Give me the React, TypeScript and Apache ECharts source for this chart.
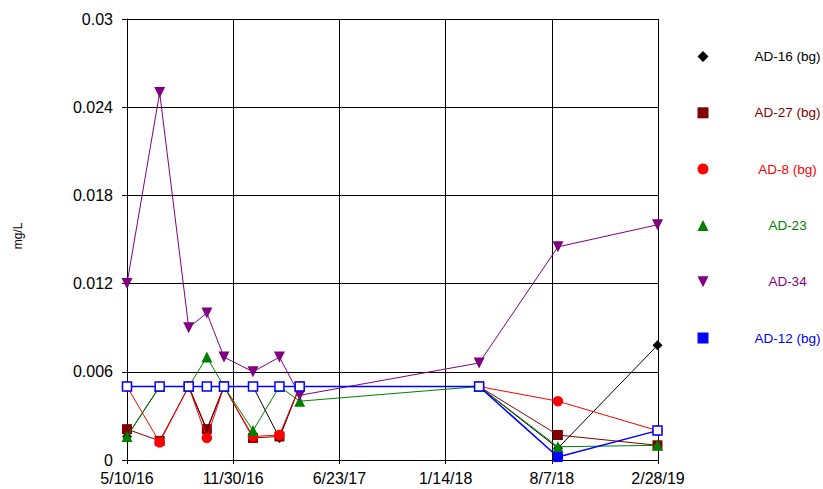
import React, { useEffect, useRef } from 'react';
import * as echarts from 'echarts';

// ---- data ----
const axisStart = '2016-05-10';
const axisEnd = '2019-02-28';
const sampleDates = [
  '2016-05-10', '2016-07-12', '2016-09-06', '2016-10-11', '2016-11-13',
  '2017-01-08', '2017-02-28', '2017-04-08', '2018-03-20', '2018-08-19', '2019-02-27',
];
const seriesNames = ['AD-16 (bg)', 'AD-27 (bg)', 'AD-8 (bg)', 'AD-23', 'AD-34', 'AD-12 (bg)'];
const ad16 = [0.0016, 0.005, 0.005, 0.002, 0.005, 0.005, 0.0015, 0.005, 0.005, 0.0008, 0.0078];
const ad27 = [0.0021, 0.0013, 0.005, 0.0021, 0.005, 0.0015, 0.0016, 0.005, 0.005, 0.0017, 0.001];
const ad8 = [0.005, 0.0012, 0.005, 0.0015, 0.005, 0.0016, 0.0017, 0.005, 0.005, 0.004, 0.002];
const ad23 = [0.0016, 0.005, 0.005, 0.007, 0.005, 0.002, 0.005, 0.004, 0.005, 0.0009, 0.001];
const ad34 = [0.012, 0.025, 0.009, 0.01, 0.007, 0.006, 0.007, 0.0044, 0.0066, 0.0145, 0.016];
const ad12 = [0.005, 0.005, 0.005, 0.005, 0.005, 0.005, 0.005, 0.005, 0.005, 0.0002, 0.002];
const ad12Hollow = [true, true, true, true, true, true, true, true, true, false, true];
const yTicks = [0, 0.006, 0.012, 0.018, 0.024, 0.03];

const DAY = 86400000;
const parse = (s: string) => {
  const [y, m, d] = s.split('-').map(Number);
  return Date.UTC(y, m - 1, d);
};
const t0 = parse(axisStart);
const toDay = (s: string) => (parse(s) - t0) / DAY;
const totalDays = toDay(axisEnd);
const fmtDay = (v: number) => {
  const dt = new Date(t0 + Math.floor(v + 1e-6) * DAY);
  return `${dt.getUTCMonth() + 1}/${dt.getUTCDate()}/${String(dt.getUTCFullYear()).slice(2)}`;
};

const FONT = "'Liberation Sans', Arial, sans-serif";

const styles = [
  { color: '#000000', symbol: 'diamond', size: 10, rotate: 0, width: 1 },
  { color: '#800000', symbol: 'rect', size: 10, rotate: 0, width: 1 },
  { color: '#FF0000', symbol: 'circle', size: 10.5, rotate: 0, width: 1 },
  { color: '#008000', symbol: 'triangle', size: 11, rotate: 0, width: 1 },
  { color: '#800080', symbol: 'triangle', size: 11, rotate: 180, width: 1 },
  { color: '#0000FF', symbol: 'rect', size: 9, rotate: 0, width: 1.5 },
];
const values = [ad16, ad27, ad8, ad23, ad34, ad12];

export default function App() {
  const ref = useRef<HTMLDivElement>(null);
  useEffect(() => {
    if (!ref.current) return;
    const chart = echarts.init(ref.current, undefined, { renderer: 'svg' });
    const xs = sampleDates.map(toDay);

    const series = values.map((vals, i) => {
      const st = styles[i];
      const data = vals.map((v, k) => {
        if (i === 5) {
          return {
            value: [xs[k], v],
            itemStyle: ad12Hollow[k]
              ? { color: '#ffffff', borderColor: st.color, borderWidth: 1.5 }
              : { color: st.color, borderColor: st.color, borderWidth: 1 },
          };
        }
        return { value: [xs[k], v] };
      });
      return {
        name: seriesNames[i],
        type: 'line',
        data,
        symbol: st.symbol,
        symbolSize: st.size,
        symbolRotate: st.rotate,
        showAllSymbol: true,
        lineStyle: { color: st.color, width: st.width },
        itemStyle: { color: st.color },
        z: 2 + i,
      };
    });

    // legend drawn as graphic elements
    const legendX = 703;
    const legendY0 = 56.5;
    const legendStep = 56.3;
    const textX = 787.5;
    const graphic: any[] = [];
    seriesNames.forEach((name, i) => {
      const st = styles[i];
      const cy = legendY0 + i * legendStep;
      const h = 5.5;
      let el: any;
      if (st.symbol === 'diamond') {
        el = { type: 'polygon', shape: { points: [[legendX, cy - h], [legendX + h, cy], [legendX, cy + h], [legendX - h, cy]] }, style: { fill: st.color } };
      } else if (st.symbol === 'rect') {
        el = { type: 'rect', shape: { x: legendX - 5.5, y: cy - 5.5, width: 11, height: 11 }, style: { fill: st.color } };
      } else if (st.symbol === 'circle') {
        el = { type: 'circle', shape: { cx: legendX, cy, r: 5.5 }, style: { fill: st.color } };
      } else if (st.rotate === 180) {
        el = { type: 'polygon', shape: { points: [[legendX - 5.5, cy - 5.5], [legendX + 5.5, cy - 5.5], [legendX, cy + 5.5]] }, style: { fill: st.color } };
      } else {
        el = { type: 'polygon', shape: { points: [[legendX - 5.5, cy + 5.5], [legendX + 5.5, cy + 5.5], [legendX, cy - 5.5]] }, style: { fill: st.color } };
      }
      graphic.push(el);
      graphic.push({
        type: 'text',
        x: textX,
        y: cy,
        style: { text: name, fill: st.color, font: `13.5px ${FONT}`, align: 'center', verticalAlign: 'middle' },
      });
    });
    graphic.push({
      type: 'text',
      x: 18,
      y: 236,
      rotation: Math.PI / 2,
      style: { text: 'mg/L', fill: '#000', font: `12px ${FONT}`, align: 'center', verticalAlign: 'middle' },
    });

    chart.setOption({
      animation: false,
      backgroundColor: '#ffffff',
      textStyle: { fontFamily: FONT },
      grid: { left: 127, right: 165, top: 19, bottom: 29, containLabel: false },
      xAxis: {
        type: 'value',
        min: 0,
        max: totalDays,
        interval: totalDays / 5,
        axisLine: { show: true, onZero: false, lineStyle: { color: '#000', width: 1 } },
        axisTick: { show: true, length: 4, lineStyle: { color: '#000' } },
        splitLine: { show: true, lineStyle: { color: '#000', width: 1 } },
        axisLabel: { color: '#000', fontSize: 16, fontFamily: FONT, margin: 10, formatter: (v: number) => fmtDay(v) },
      },
      yAxis: {
        type: 'value',
        min: yTicks[0],
        max: yTicks[yTicks.length - 1],
        interval: yTicks[1] - yTicks[0],
        axisLine: { show: true, onZero: false, lineStyle: { color: '#000', width: 1 } },
        axisTick: { show: true, length: 5, lineStyle: { color: '#000' } },
        splitLine: { show: true, lineStyle: { color: '#000', width: 1 } },
        axisLabel: { color: '#000', fontSize: 16, fontFamily: FONT, margin: 14, formatter: (v: number) => String(+v.toFixed(4)) },
      },
      graphic,
      series,
    });
    return () => chart.dispose();
  }, []);
  return <div ref={ref} style={{ position: 'fixed', left: 0, top: 0, width: 823, height: 489 }} />;
}
